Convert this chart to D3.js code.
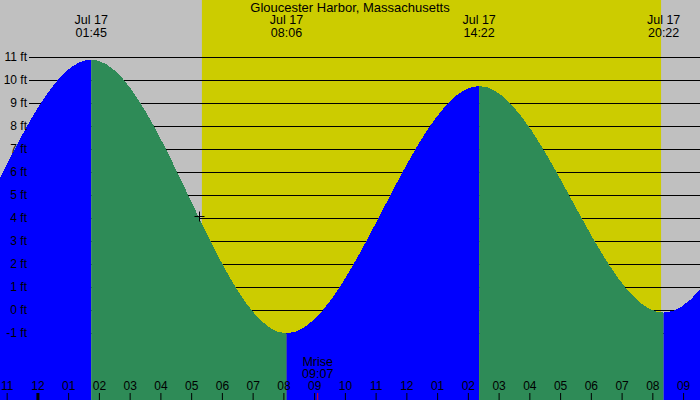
<!DOCTYPE html>
<html>
<head>
<meta charset="utf-8">
<script src="https://cdn.jsdelivr.net/npm/d3@7"></script>
<style>
  body { margin: 0; background: #c0c0c0; }
  svg { display: block; }
  text { font-family: "Liberation Sans", Arial, sans-serif; font-size: 12px; fill: #000; }
  .big { font-size: 13px; }
  .mid { font-size: 12.5px; }
</style>
</head>
<body>
<svg id="chart" width="700" height="400"></svg>
<script>
// tide extremes (times local), heights in ft
const tideTimes = ["2024-07-16 13:10", "2024-07-16 19:25", "2024-07-17 01:45", "2024-07-17 08:06", "2024-07-17 14:22", "2024-07-17 20:22", "2024-07-18 02:35", "2024-07-18 08:50"];
const tideHeights = [9.9, -0.5, 10.9, -1.0, 9.75, -0.1, 10.4, -0.7];
const labelledExtremes = [2, 3, 4, 5]; // which extremes get a label on top
const footLevels = [-1, 0, 1, 2, 3, 4, 5, 6, 7, 8, 9, 10, 11];
const sunrise = "2024-07-17 05:21";
const sunset = "2024-07-17 20:17";
const moonrise = "2024-07-17 09:07";
const markerTime = "2024-07-17 05:16";
const markerHeight = 4.1;
const startTime = "2024-07-16 22:47";
const endTime = "2024-07-17 21:33";
const title = "Gloucester Harbor, Massachusetts";

const parse = d3.timeParse("%Y-%m-%d %H:%M");
const fmtDay = d3.timeFormat("%b %d");
const fmtHM = d3.timeFormat("%H:%M");
const width = 700, height = 400;
const svg = d3.select("#chart");

const x = d3.scaleTime()
  .domain([parse(startTime), parse(endTime)])
  .range([0, width]);
const y = d3.scaleLinear()
  .domain([-1, 11])
  .range([333.3, 57.3]);

const tide = tideTimes.map((t, i) => ({ t: parse(t), h: tideHeights[i] }));

// background + daylight
svg.append("rect").attr("width", width).attr("height", height).attr("fill", "#c0c0c0");
svg.append("rect")
  .attr("x", x(parse(sunrise)))
  .attr("width", x(parse(sunset)) - x(parse(sunrise)))
  .attr("y", 0).attr("height", height)
  .attr("fill", "#cccc00");

// foot lines
svg.selectAll(".grid")
  .data(footLevels)
  .enter()
  .append("line")
  .attr("class", "grid")
  .attr("x1", 29).attr("x2", width)
  .attr("y1", d => Math.round(y(d)) + 0.5)
  .attr("y2", d => Math.round(y(d)) + 0.5)
  .attr("stroke", "#000");

// tide area, split into rising (blue) and falling (green) parts
const area = d3.area()
  .x(d => x(d.t))
  .y0(height)
  .y1(d => y(d.h))
  .curve(d3.curveMonotoneX);

const defs = svg.append("defs");
tide.slice(0, -1).forEach((d, i) => {
  const next = tide[i + 1];
  defs.append("clipPath").attr("id", "seg" + i)
    .append("rect")
    .attr("x", x(d.t)).attr("width", x(next.t) - x(d.t))
    .attr("y", 0).attr("height", height);
  svg.append("path")
    .datum(tide)
    .attr("d", area)
    .attr("clip-path", "url(#seg" + i + ")")
    .attr("fill", next.h > d.h ? "#0000ff" : "#2e8b57")
    .attr("shape-rendering", "crispEdges");
});

// foot labels
svg.selectAll(".flabel")
  .data(footLevels)
  .enter()
  .append("text")
  .attr("class", "flabel")
  .attr("x", 27)
  .attr("y", d => y(d) + 4)
  .attr("text-anchor", "end")
  .text(d => d + " ft");

// title
svg.append("text")
  .attr("class", "big")
  .attr("x", 350).attr("y", 12)
  .attr("text-anchor", "middle")
  .text(title);

// extreme labels
const ext = svg.selectAll(".ext")
  .data(labelledExtremes.map(i => tide[i]))
  .enter()
  .append("g")
  .attr("class", "ext")
  .attr("transform", d => "translate(" + x(d.t) + ",0)");
ext.append("text").attr("class", "mid").attr("y", 24).attr("text-anchor", "middle").text(d => fmtDay(d.t));
ext.append("text").attr("class", "mid").attr("y", 37).attr("text-anchor", "middle").text(d => fmtHM(d.t));

// marker
const mx = Math.round(x(parse(markerTime))) + 0.5, my = Math.round(y(markerHeight)) + 0.5;
svg.append("path")
  .attr("d", "M" + (mx - 5) + "," + my + "H" + (mx + 5) + "M" + mx + "," + (my - 5) + "V" + (my + 5))
  .attr("stroke", "#000");

// hour axis
const hours = d3.timeHour.range(x.domain()[0], x.domain()[1]);
const axis = svg.append("g")
  .attr("transform", "translate(0," + height + ")")
  .call(d3.axisTop(x).tickValues(hours).tickFormat(d3.timeFormat("%I")).tickSize(7).tickPadding(3));
axis.select(".domain").remove();
axis.selectAll("text")
  .style("font-family", "'Liberation Sans', Arial, sans-serif")
  .style("font-size", "12px");
axis.selectAll(".tick line")
  .attr("stroke-width", d => d.getHours() === 0 ? 3 : 1);

// moonrise
const mr = parse(moonrise);
svg.append("line")
  .attr("x1", x(mr)).attr("x2", x(mr))
  .attr("y1", height - 7).attr("y2", height)
  .attr("stroke", "#ff0000");
svg.append("text").attr("class", "mid").attr("x", x(mr)).attr("y", 366).attr("text-anchor", "middle").text("Mrise");
svg.append("text").attr("class", "mid").attr("x", x(mr)).attr("y", 378).attr("text-anchor", "middle").text(fmtHM(mr));
</script>
</body>
</html>
